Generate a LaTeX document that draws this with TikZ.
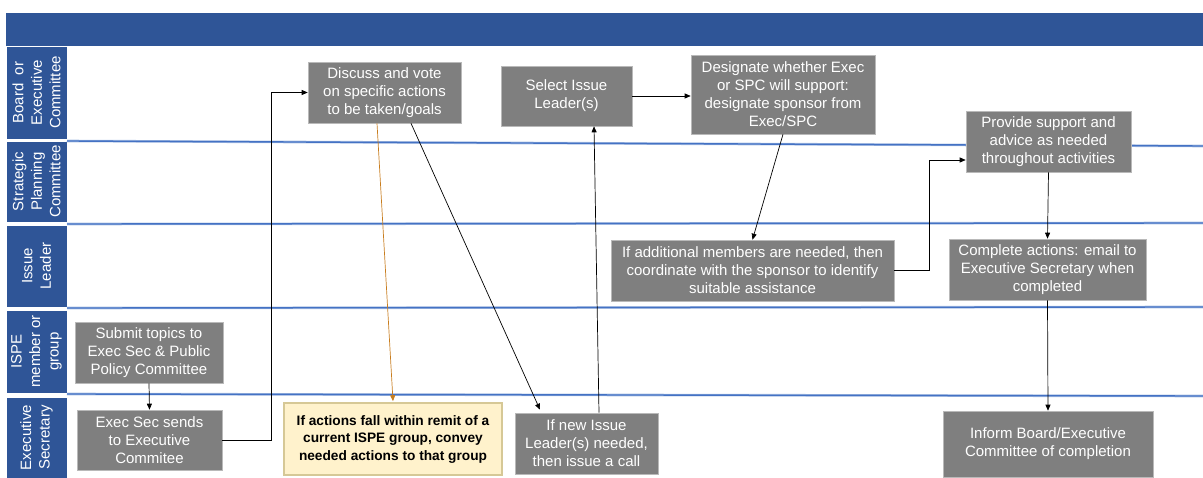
\documentclass[tikz,border=0pt]{standalone}
\usepackage{fontspec}
\setmainfont{Liberation Sans}
\usetikzlibrary{arrows.meta}

\definecolor{hdrblue}{RGB}{47,85,151}
\definecolor{laneline}{RGB}{68,114,196}
\definecolor{taskgray}{RGB}{127,127,127}
\definecolor{notefill}{RGB}{255,242,204}
\definecolor{notedraw}{RGB}{214,200,150}
\definecolor{orangeline}{RGB}{200,125,30}

\tikzset{
  task/.style={fill=taskgray, draw=taskgray!55!white, line width=0.6pt, text=white,
    align=center, inner sep=0pt, font=\fontsize{15}{18}\selectfont},
  note/.style={fill=notefill, draw=notedraw, line width=1.6pt, text=black,
    align=center, inner sep=0pt, font=\fontsize{13.7}{17.5}\selectfont\bfseries},
  lanelbl/.style={rotate=90, fill=hdrblue, draw=white, line width=0.8pt, text=white,
    align=center, inner sep=0pt, minimum height=61pt, font=\fontsize{15}{18.5}\selectfont},
  laneedge/.style={draw=laneline!45!white, line width=2.6pt, postaction={draw=laneline, line width=1.4pt}},
  flow/.style={draw=black, line width=0.7pt, -{Triangle[length=6pt,width=5pt]}},
}

\begin{document}
\begin{tikzpicture}[x=1pt,y=-1pt]
\useasboundingbox (0,0) rectangle (1203,478);
\fill[hdrblue] (6,13) rectangle (1203,46);

% swimlanes
\node[lanelbl, minimum width=93pt] (lnBoard) at (36.5,92.5) {Board\ \ or\\Executive\\Committee};
\node[lanelbl, minimum width=81pt] (lnSPC) at (36.5,181.5) {Strategic\\Planning\\Committee};
\node[lanelbl, minimum width=82pt] (lnLeader) at (36.5,266) {Issue\\Leader};
\node[lanelbl, minimum width=83pt] (lnISPE) at (36.5,351.5) {ISPE\\member or\\group};
\node[lanelbl, minimum width=81pt] (lnSec) at (36.5,437.5) {Executive\\Secretary};
\draw[laneedge] (67,141) -- (1203,146);
\draw[laneedge] (67,224) -- (1203,223);
\draw[laneedge] (67,308) -- (1203,307);
\draw[laneedge] (67,394) -- (1203,396);

% tasks
\node[task, minimum width=153pt, minimum height=61pt] (discuss) at (384.5,92.5) {Discuss and vote\\on specific actions\\to be taken/goals};
\node[task, minimum width=131pt, minimum height=60pt] (select) at (566.5,96) {Select Issue\\Leader(s)};
\node[task, minimum width=184pt, minimum height=79pt] (designate) at (783,94.5) {Designate whether Exec\\or SPC will support:\\designate sponsor from\\Exec/SPC};
\node[task, minimum width=165pt, minimum height=61pt] (provide) at (1048.5,141.5) {Provide support and\\advice as needed\\throughout activities};
\node[task, minimum width=283pt, minimum height=61pt] (addl) at (752.5,270.5) {If additional members are needed, then\\coordinate with the sponsor to identify\\suitable assistance};
\node[task, minimum width=197pt, minimum height=61pt] (complete) at (1047.5,269.5) {Complete actions: email to\\Executive Secretary when\\completed};
\node[task, minimum width=148pt, minimum height=61pt] (submit) at (149,352.5) {Submit topics to\\Exec Sec \& Public\\Policy Committee};
\node[task, minimum width=145pt, minimum height=60pt] (sends) at (149.5,440) {Exec Sec sends\\to Executive\\Commitee};
\node[note, minimum width=218pt, minimum height=72pt] (remit) at (393,439) {If actions fall within remit of a\\current ISPE group, convey\\needed actions to that group};
\node[task, minimum width=143pt, minimum height=61pt] (newleader) at (586.5,443.5) {If new Issue\\Leader(s) needed,\\then issue a call};
\node[task, minimum width=210pt, minimum height=66pt] (inform) at (1048,444) {Inform Board/Executive\\Committee of completion};

% flows
\draw[flow] (submit.south) -- (sends.north);
\draw[flow] (sends.east) -- ++(49pt,0) |- (discuss.west);
\draw[flow, draw=orangeline] ([xshift=-7.5pt]discuss.south) -- ([yshift=1pt]remit.north);
\draw[flow] ([xshift=26.5pt]discuss.south) -- ([xshift=-46.5pt,yshift=3pt]newleader.north);
\draw[flow] ([xshift=12.5pt]newleader.north) -- ([xshift=27.5pt]select.south);
\draw[flow] (select.east) -- (select.east -| designate.west);
\draw[flow] (designate.south) -- (addl.north);
\draw[flow] (addl.east) -- ++(35pt,0) |- ([yshift=-18.5pt]provide.west);
\draw[flow] (provide.south) -- (complete.north);
\draw[flow] (complete.south) -- (inform.north);
\end{tikzpicture}
\end{document}
